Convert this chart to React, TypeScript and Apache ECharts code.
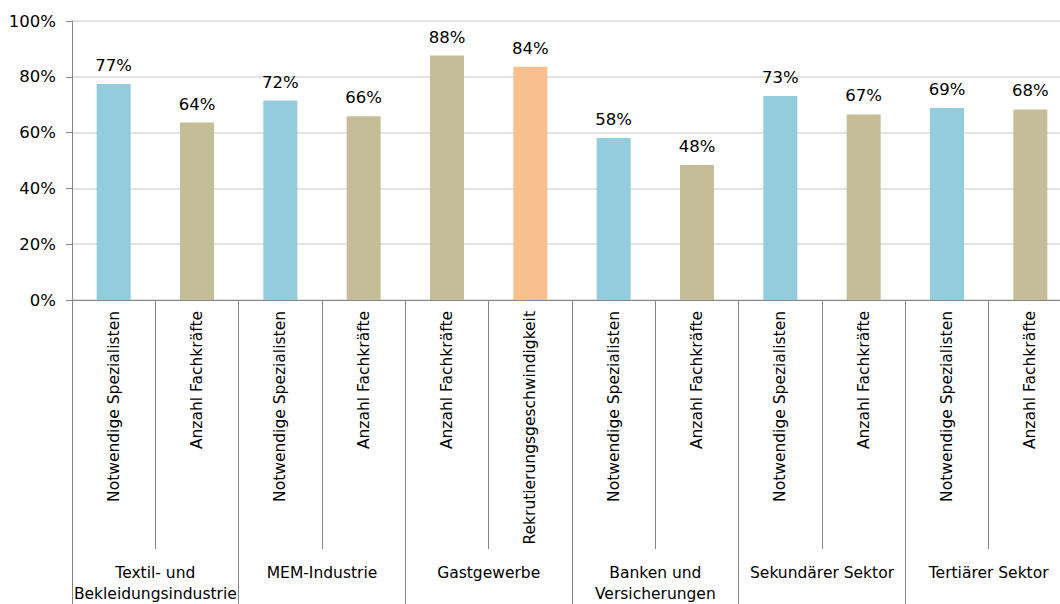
import React, { useEffect, useRef } from "react";
import * as echarts from "echarts";

const categories = [
  "Notwendige Spezialisten",
  "Anzahl Fachkräfte",
  "Notwendige Spezialisten",
  "Anzahl Fachkräfte",
  "Anzahl Fachkräfte",
  "Rekrutierungsgeschwindigkeit",
  "Notwendige Spezialisten",
  "Anzahl Fachkräfte",
  "Notwendige Spezialisten",
  "Anzahl Fachkräfte",
  "Notwendige Spezialisten",
  "Anzahl Fachkräfte",
];

const groups = [
  "Textil- und\nBekleidungsindustrie",
  "MEM-Industrie",
  "Gastgewerbe",
  "Banken und\nVersicherungen",
  "Sekundärer Sektor",
  "Tertiärer Sektor",
];

const values = [77.4, 63.6, 71.5, 65.9, 87.6, 83.6, 58.1, 48.4, 73.1, 66.5, 68.8, 68.3];

const yTicks = [0, 20, 40, 60, 80, 100];

const colorByMeasure: Record<string, string> = {
  "Notwendige Spezialisten": "#93CDDD",
  "Anzahl Fachkräfte": "#C4BD97",
  "Rekrutierungsgeschwindigkeit": "#F9C08F",
};

const FONT = "DejaVu Sans";

export default function App() {
  const ref = useRef<HTMLDivElement>(null);

  useEffect(() => {
    document.body.style.margin = "0";
    if (!ref.current) return;
    const chart = echarts.init(ref.current, null, { renderer: "svg" });
    const axisGray = "#868686";
    chart.setOption({
      animation: false,
      textStyle: { fontFamily: FONT },
      grid: { left: 72, top: 21, right: 8, bottom: 303.5, containLabel: false },
      xAxis: [
        {
          type: "category",
          data: categories,
          position: "bottom",
          axisLine: { show: true, lineStyle: { color: axisGray, width: 1 } },
          axisTick: { show: true, interval: 0, length: 249, lineStyle: { color: axisGray } },
          axisLabel: {
            interval: 0,
            rotate: 90,
            margin: 11,
            fontSize: 15.5,
            fontFamily: FONT,
            color: "#000",
          },
          splitLine: { show: false },
        },
        {
          type: "category",
          data: groups,
          position: "bottom",
          offset: 0,
          axisLine: { show: false },
          axisTick: { show: true, interval: 0, length: 310, lineStyle: { color: axisGray } },
          axisLabel: {
            interval: 0,
            margin: 262,
            fontSize: 15.5,
            lineHeight: 21,
            fontFamily: FONT,
            color: "#000",
            verticalAlign: "top",
          },
          splitLine: { show: false },
        },
      ],
      yAxis: {
        type: "value",
        min: yTicks[0],
        max: yTicks[yTicks.length - 1],
        interval: 20,
        axisLine: { show: true, lineStyle: { color: axisGray } },
        axisTick: { show: true, length: 6, lineStyle: { color: axisGray } },
        axisLabel: {
          formatter: "{value}%",
          fontSize: 16.5,
          fontFamily: FONT,
          color: "#000",
          margin: 16,
        },
        splitLine: { show: true, lineStyle: { color: "#DADADA", width: 1.5 } },
      },
      series: [
        {
          type: "bar",
          xAxisIndex: 0,
          barWidth: 34,
          data: values.map((v, i) => ({
            value: v,
            itemStyle: { color: colorByMeasure[categories[i]] },
          })),
          label: {
            show: true,
            position: "top",
            distance: 10,
            fontSize: 16.5,
            fontFamily: FONT,
            color: "#000",
            formatter: (p: any) => Math.round(p.value) + "%",
          },
        },
      ],
    });
    return () => chart.dispose();
  }, []);

  return (
    <div style={{ width: 1060, height: 604, overflow: "hidden", position: "relative" }}>
      <div ref={ref} style={{ width: 1080, height: 604 }} />
    </div>
  );
}
